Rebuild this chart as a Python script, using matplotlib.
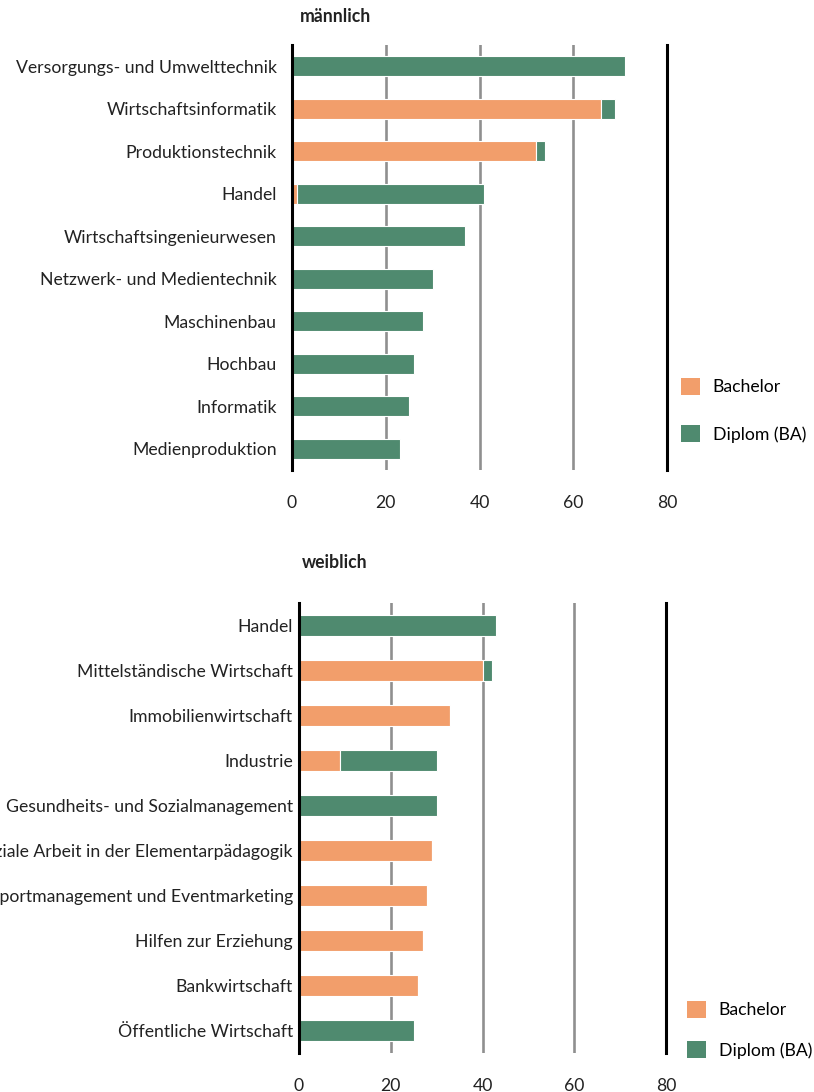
import matplotlib
matplotlib.use("Agg")
import matplotlib.pyplot as plt
from matplotlib.patches import Patch

plt.rcParams['font.family'] = ['Lato', 'DejaVu Sans']

# Männlich
m_categories = ["Versorgungs- und Umwelttechnik", "Wirtschaftsinformatik", "Produktionstechnik",
                "Handel", "Wirtschaftsingenieurwesen", "Netzwerk- und Medientechnik",
                "Maschinenbau", "Hochbau", "Informatik", "Medienproduktion"]
m_bachelor = [0, 66, 52, 1, 0, 0, 0, 0, 0, 0]
m_diplom = [71, 3, 2, 40, 37, 30, 28, 26, 25, 23]

# Weiblich
w_categories = ["Handel", "Mittelständische Wirtschaft", "Immobilienwirtschaft", "Industrie",
                "Gesundheits- und Sozialmanagement", "Soziale Arbeit in der Elementarpädagogik",
                "Sportmanagement und Eventmarketing", "Hilfen zur Erziehung",
                "Bankwirtschaft", "Öffentliche Wirtschaft"]
w_bachelor = [0, 40, 33, 9, 0, 29, 28, 27, 26, 0]
w_diplom = [43, 2, 0, 21, 30, 0, 0, 0, 0, 25]

x_ticks = [0, 20, 40, 60, 80]
series_names = ["Bachelor", "Diplom (BA)"]

ORANGE = "#F29E6B"
GREEN = "#4F8A6F"
W, H = 814, 1092
FS = 12.7

fig = plt.figure(figsize=(W / 100, H / 100), dpi=100)


def px_axes(x0, y0, x1, y1):
    return fig.add_axes([x0 / W, 1 - y1 / H, (x1 - x0) / W, (y1 - y0) / H])


def draw_panel(ax, cats, bach, dipl, title, title_x, title_y, ypad):
    ys = list(range(len(cats)))
    ax.barh(ys, bach, height=0.48, color=ORANGE, edgecolor="white", linewidth=0.8, zorder=2)
    ax.barh(ys, dipl, left=bach, height=0.48, color=GREEN, edgecolor="white", linewidth=0.8, zorder=2)
    ax.set_xlim(0, 80)
    ax.set_ylim(len(cats) - 0.5, -0.5)
    for v in x_ticks[1:-1]:
        ax.axvline(v, color="#8f8f8f", lw=1.9, zorder=1)
    ax.axvline(80, color="black", lw=2.2, zorder=3, clip_on=False)
    ax.axvline(0, color="black", lw=2.2, zorder=3, clip_on=False)
    for s in ax.spines.values():
        s.set_visible(False)
    ax.set_yticks(ys)
    ax.set_yticklabels(cats, fontsize=FS, color="#222222")
    ax.set_xticks(x_ticks)
    ax.set_xticklabels([str(t) for t in x_ticks], fontsize=FS, color="#222222")
    ax.tick_params(length=0)
    ax.tick_params(axis="y", pad=ypad)
    ax.tick_params(axis="x", pad=18)
    fig.text(title_x / W, 1 - title_y / H, title, fontsize=FS, fontweight="bold",
             color="#222222", ha="left", va="center")


ax1 = px_axes(292, 45, 667, 470)
draw_panel(ax1, m_categories, m_bachelor, m_diplom, "männlich", 300, 17, 11)

ax2 = px_axes(299, 603, 666, 1053)
draw_panel(ax2, w_categories, w_bachelor, w_diplom, "weiblich", 302, 563, 4.5)

handles = [Patch(facecolor=ORANGE, edgecolor="none"), Patch(facecolor=GREEN, edgecolor="none")]
fig.legend(handles, series_names, loc="upper left", bbox_to_anchor=(665 / W, 1 - 362 / H),
           frameon=False, fontsize=FS, handlelength=1.1, handleheight=1.1,
           labelspacing=1.7, handletextpad=0.7)
fig.legend(handles, series_names, loc="upper left", bbox_to_anchor=(671 / W, 1 - 985 / H),
           frameon=False, fontsize=FS, handlelength=1.1, handleheight=1.1,
           labelspacing=1.3, handletextpad=0.7)

fig.savefig("out.png", dpi=100)
